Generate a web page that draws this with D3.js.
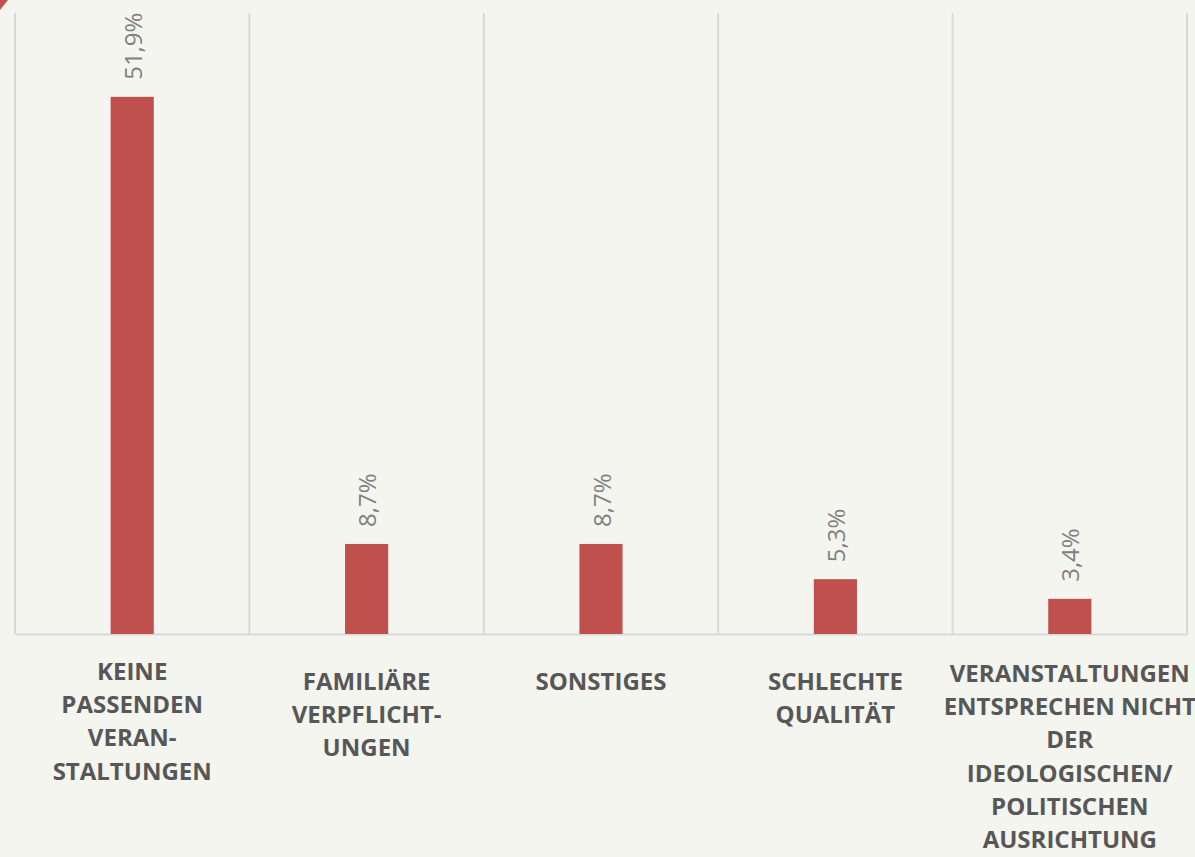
<!DOCTYPE html>
<html>
<head>
<meta charset="utf-8">
<script src="https://cdn.jsdelivr.net/npm/d3@7"></script>
<style>
  html, body { margin: 0; padding: 0; background: #f5f5f0; }
  svg { display: block; }
</style>
</head>
<body>
<svg id="chart" width="1195" height="857"></svg>
<script>
// ---- data ----
const categories = [
  "KEINE PASSENDEN VERANSTALTUNGEN",
  "FAMILIÄRE VERPFLICHTUNGEN",
  "SONSTIGES",
  "SCHLECHTE QUALITÄT",
  "VERANSTALTUNGEN ENTSPRECHEN NICHT DER IDEOLOGISCHEN/ POLITISCHEN AUSRICHTUNG"
];
const categoryLines = [
  ["KEINE", "PASSENDEN", "VERAN-", "STALTUNGEN"],
  ["FAMILIÄRE", "VERPFLICHT-", "UNGEN"],
  ["SONSTIGES"],
  ["SCHLECHTE", "QUALITÄT"],
  ["VERANSTALTUNGEN", "ENTSPRECHEN NICHT", "DER", "IDEOLOGISCHEN/", "POLITISCHEN", "AUSRICHTUNG"]
];
const values = [51.9, 8.7, 8.7, 5.3, 3.4];
const valueLabels = ["51,9%", "8,7%", "8,7%", "5,3%", "3,4%"];
const yDomain = [0, 60];

// ---- layout ----
const svg = d3.select("#chart");
const W = 1195, H = 857;
const plot = { left: 15, right: 1187, top: 13, bottom: 634 };

svg.append("rect").attr("width", W).attr("height", H).attr("fill", "#f5f5f0");

// decorative corner
svg.append("path")
  .attr("d", "M0,0 L8,0 Q4,5 0,10 Z")
  .attr("fill", "#c0504d");

const x = d3.scaleBand().domain(categories).range([plot.left, plot.right]).paddingInner(0).paddingOuter(0);
const y = d3.scaleLinear().domain(yDomain).range([plot.bottom, plot.top]);
const barW = x.bandwidth() * 0.184;

// vertical separators (category boundaries)
const bounds = categories.map(c => x(c)).concat([plot.right]);
svg.append("g").selectAll("line").data(bounds).join("line")
  .attr("x1", d => d).attr("x2", d => d)
  .attr("y1", plot.top).attr("y2", plot.bottom)
  .attr("stroke", "#d9d9d9").attr("stroke-width", 2);

// baseline axis
const xAxis = d3.axisBottom(x).tickSize(0).tickFormat("");
const axisG = svg.append("g").attr("transform", `translate(0,${plot.bottom})`).call(xAxis);
axisG.select(".domain").attr("stroke", "#d9d9d9").attr("stroke-width", 2);

// bars
svg.append("g").selectAll("rect").data(values).join("rect")
  .attr("x", (d, i) => x(categories[i]) + x.bandwidth() / 2 - barW / 2)
  .attr("width", barW)
  .attr("y", d => y(d))
  .attr("height", d => y(0) - y(d))
  .attr("fill", "#c0504d");

// value labels (rotated)
svg.append("g").selectAll("text").data(values).join("text")
  .attr("transform", (d, i) => `translate(${x(categories[i]) + x.bandwidth() / 2 + 1},${y(d) - 17}) rotate(-90)`)
  .attr("text-anchor", "start")
  .attr("dy", "0.36em")
  .attr("font-family", "'Open Sans', sans-serif")
  .attr("font-size", 24)
  .attr("fill", "#808080")
  .text((d, i) => valueLabels[i]);

// category labels
const lineH = 33.2;
const catG = svg.append("g");
categoryLines.forEach((lines, i) => {
  const n = lines.length;
  const base0 = n === 4 ? 680 : (n >= 5 ? 682 : 690);
  const t = catG.append("text")
    .attr("text-anchor", "middle")
    .attr("font-family", "'Open Sans', sans-serif")
    .attr("font-weight", 700)
    .attr("font-size", 24)
    .attr("fill", "#575757");
  lines.forEach((ln, j) => {
    t.append("tspan")
      .attr("x", x(categories[i]) + x.bandwidth() / 2)
      .attr("y", base0 + j * lineH)
      .text(ln);
  });
});
</script>
</body>
</html>
